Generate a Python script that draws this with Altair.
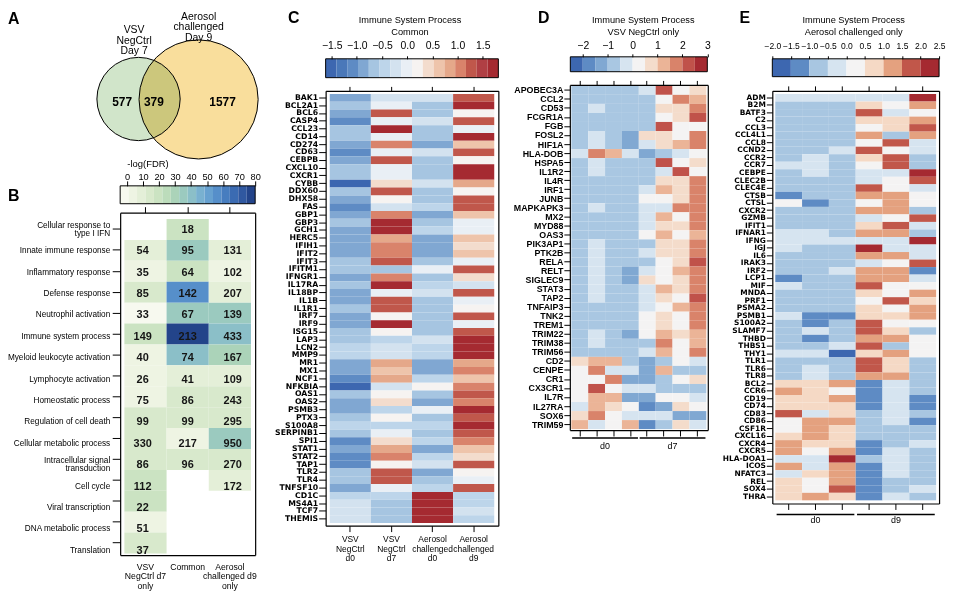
import numpy as np
import pandas as pd
import altair as alt

W, H = 948, 586
FONT = "Liberation Sans"
GENE_FONT = "DejaVu Sans"

# ---------------- data ----------------
VENN_NAMES = ["VSV\nNegCtrl\nDay 7", "Aerosol\nchallenged\nDay 9"]
VENN_ONLY = [577, 1577]
VENN_SHARED = 379

B_TERMS = ["Cellular response to|type I IFN", "Innate immune response", "Inflammatory response",
           "Defense response", "Neutrophil activation", "Immune system process",
           "Myeloid leukocyte activation", "Lymphocyte activation", "Homeostatic process",
           "Regulation of cell death", "Cellular metabolic process",
           "Intracellular signal|transduction", "Cell cycle", "Viral transcription",
           "DNA metabolic process", "Translation"]
B_GROUPS = ["VSV|NegCtrl d7|only", "Common", "Aerosol|challenged d9|only"]
B_GENES = [[None, 18, None], [54, 95, 131], [35, 64, 102], [85, 142, 207], [33, 67, 139],
           [149, 213, 433], [40, 74, 167], [26, 41, 109], [75, 86, 243], [99, 99, 295],
           [330, 217, 950], [86, 96, 270], [112, None, 172], [22, None, None],
           [51, None, None], [37, None, None]]
B_LOGFDR = [[None, 17, None], [8, 33, 7], [3, 18, 5], [12, 57, 8], [0.5, 35, 33],
            [18, 77, 40], [5, 38, 31], [1, 9, 8], [6, 15, 14], [13, 14, 14],
            [12, 1, 34], [12, 16, 12], [18, None, 8], [18, None, None],
            [4, None, None], [12, None, None]]

C_GENES = ["BAK1", "BCL2A1", "BCL6", "CASP4", "CCL23", "CD14", "CD274", "CD63", "CEBPB", "CXCL10",
           "CXCR1", "CYBB", "DDX60", "DHX58", "FAS", "GBP1", "GBP3", "GCH1", "HERC5", "IFIH1",
           "IFIT2", "IFIT3", "IFITM1", "IFNGR1", "IL17RA", "IL18BP", "IL1B", "IL1R1", "IRF7", "IRF9",
           "ISG15", "LAP3", "LCN2", "MMP9", "MR1", "MX1", "NCF1", "NFKBIA", "OAS1", "OAS2",
           "PSMB3", "PTX3", "S100A8", "SERPINB1", "SPI1", "STAT1", "STAT2", "TAP1", "TLR2", "TLR4",
           "TNFSF10", "CD1C", "MS4A1", "TCF7", "THEMIS"]
C_GROUPS = ["VSV|NegCtrl|d0", "VSV|NegCtrl|d7", "Aerosol|challenged|d0", "Aerosol|challenged|d9"]
C_Z = [[-0.9, -0.25, -0.25, 1.3], [-0.7, 0.0, -0.7, 1.7], [-0.9, 1.3, -0.7, 0.2],
       [-1.1, 0.0, -0.25, 1.3], [-0.7, 1.7, -0.7, 0.0], [-0.7, -0.1, -0.7, 1.7],
       [-0.9, 1.05, -0.9, 0.6], [-1.1, 0.0, -0.25, 1.3], [-0.9, 1.3, -0.7, 0.2],
       [-0.7, -0.1, -0.7, 1.7], [-0.7, 0.0, -0.7, 1.7], [-1.45, 0.4, -0.25, 0.85],
       [-0.7, 1.3, -0.7, 0.2], [-0.9, 0.3, -0.7, 1.3], [-1.1, -0.25, -0.45, 1.3],
       [-0.9, 1.05, -0.9, 0.6], [-0.7, 1.7, -0.7, -0.1], [-0.9, 1.7, -0.45, -0.1],
       [-0.9, 0.85, -0.9, 0.6], [-0.9, 1.05, -0.9, 0.4], [-0.9, 1.05, -0.9, 0.6],
       [-0.7, 1.3, -0.7, 0.0], [-0.7, -0.7, 0.0, 1.3], [-0.9, 1.05, -0.7, 0.4],
       [-0.7, 1.7, -0.45, -0.25], [-0.9, -0.1, -0.25, 1.3], [-0.9, 1.3, -0.7, 0.0],
       [-0.7, 1.3, -0.7, 0.2], [-0.9, 0.3, -0.7, 1.3], [-0.9, 1.7, -0.7, -0.1],
       [-0.7, 0.3, -0.7, 1.3], [-0.7, -0.45, -0.25, 1.7], [-0.45, -0.25, -0.45, 1.7],
       [-0.45, -0.25, -0.45, 1.7], [-0.9, 0.85, -0.9, 0.85], [-0.9, 0.6, -0.9, 1.05],
       [-1.1, 0.85, -0.45, 0.6], [-1.45, -0.25, 0.3, 1.05], [-0.7, 0.3, -0.7, 1.3],
       [-0.9, 0.4, -0.9, 1.05], [-0.9, -0.45, -0.1, 1.7], [-0.7, 0.3, -0.7, 1.3],
       [-0.45, -0.45, -0.45, 1.7], [-0.7, 0.0, -0.7, 1.3], [-1.1, 0.4, -0.45, 1.05],
       [-0.9, 0.85, -0.9, 0.6], [-1.1, 1.05, -0.45, 0.4], [-1.1, 0.3, -0.25, 1.3],
       [-0.7, 1.3, -0.9, 0.2], [-0.7, 1.3, -0.7, 0.0], [-0.9, 0.0, -0.45, 1.3],
       [-0.45, -0.45, 1.7, -0.45], [-0.25, -0.7, 1.7, -0.45], [-0.25, -0.7, 1.7, -0.25],
       [-0.25, -0.7, 1.7, -0.45]]

D_GENES = ["APOBEC3A", "CCL2", "CD53", "FCGR1A", "FGB", "FOSL2", "HIF1A", "HLA-DOB", "HSPA5",
           "IL1R2", "IL4R", "IRF1", "JUNB", "MAPKAPK3", "MX2", "MYD88", "OAS3", "PIK3AP1",
           "PTK2B", "RELA", "RELT", "SIGLEC9", "STAT3", "TAP2", "TNFAIP3", "TNK2", "TREM1",
           "TRIM22", "TRIM38", "TRIM56", "CD2", "CENPE", "CR1", "CX3CR1", "IL7R", "IL27RA",
           "SOX6", "TRIM59"]
D_SAMPLES = ["d0 1", "d0 2", "d0 3", "d0 4", "d7 1", "d7 2", "d7 3", "d7 4"]
D_DAYS = ["d0", "d7"]
D_Z = [[-0.75, -0.75, -0.75, -0.75, -0.25, 2.25, 0.25, 0.75],
       [-0.75, -0.75, -0.75, -0.75, -0.75, 0.25, 1.75, 1.25],
       [-0.75, -0.25, -0.75, -0.75, -0.75, 0.75, 0.75, 1.75],
       [-0.75, -0.75, -0.75, -0.75, -0.75, 0.25, 0.75, 2.25],
       [-0.75, -0.75, -0.75, -0.75, -0.75, 2.25, 0.25, 0.25],
       [-0.75, -0.25, -0.75, -1.25, 0.75, 0.75, 0.25, 1.75],
       [-0.75, -0.25, -0.75, -1.25, -0.25, 0.75, 1.25, 1.75],
       [-0.25, 1.75, 1.25, -0.25, -1.25, -0.75, -0.25, 0.25],
       [-0.75, -0.25, -0.75, -0.75, -0.75, 2.25, 0.25, 0.75],
       [-0.75, -0.25, -0.75, -0.75, -0.75, -0.25, 2.25, 0.25],
       [-0.75, -0.75, -0.75, -0.75, -0.75, 0.75, 0.75, 1.75],
       [-0.75, -0.75, -0.75, -0.75, -0.25, 1.25, 0.75, 1.75],
       [-0.75, -0.75, -0.75, -0.75, 0.25, 0.25, 0.75, 1.75],
       [-0.75, -0.25, -0.75, -0.75, -0.25, -0.25, 1.75, 1.75],
       [-0.75, -0.75, -0.75, -0.75, -0.25, 1.25, 0.25, 1.75],
       [-0.75, -0.75, -0.75, -0.75, -0.25, 0.75, 0.75, 1.75],
       [-0.75, -0.75, -0.75, -0.75, 0.25, 1.25, 0.25, 1.25],
       [-0.75, -0.25, -0.75, -0.75, -0.75, 0.75, 0.75, 1.75],
       [-0.75, -0.25, -0.75, -0.75, -0.25, 0.75, 0.75, 1.75],
       [-0.75, -0.25, -0.75, -0.75, -0.75, 0.25, 0.75, 2.25],
       [-0.75, -0.25, -0.75, -1.25, -0.25, 0.25, 1.25, 1.75],
       [-0.75, -0.25, -0.75, -1.25, 0.75, 0.25, 0.75, 1.75],
       [-0.75, -0.25, -0.75, -0.75, -0.25, 1.25, 0.75, 1.75],
       [-0.75, -0.25, -0.75, -0.75, -0.25, 0.75, 0.25, 2.25],
       [-0.75, -0.75, -0.75, -0.75, -0.25, 0.25, 1.25, 1.75],
       [-0.75, -0.75, -0.75, -0.75, 0.25, 0.75, 0.25, 1.75],
       [-0.75, -0.75, -0.75, -0.75, 0.25, 0.75, 0.25, 1.75],
       [-0.75, -0.25, -0.75, -1.25, 0.25, 1.25, 0.75, 1.25],
       [-0.75, -0.25, -0.75, -0.75, -0.75, 1.75, 0.25, 1.25],
       [-0.75, -0.75, -0.75, -0.75, -0.25, 1.25, 0.25, 1.75],
       [0.75, 1.25, 1.25, -0.75, -1.25, -0.75, 0.25, -0.25],
       [0.25, 1.75, -0.25, -0.25, -1.25, 1.25, -0.75, -0.75],
       [0.25, 0.25, 1.75, -1.25, -1.25, -0.75, 0.25, 0.75],
       [0.25, 2.25, 0.25, -0.25, -0.25, -0.75, -0.75, -0.75],
       [0.25, 1.25, 1.25, -1.25, -1.25, 0.25, 0.25, -0.25],
       [-0.25, 1.25, 0.75, 0.25, -1.75, -1.25, 0.75, 0.25],
       [0.75, 1.75, 0.25, -0.25, -0.25, -0.25, -1.25, -1.25],
       [1.25, -0.25, 0.25, 1.25, -1.75, -0.75, 0.75, -0.25]]

E_GENES = ["ADM", "B2M", "BATF3", "C2", "CCL3", "CCL4L1", "CCL8", "CCND2", "CCR2", "CCR7",
           "CEBPE", "CLEC2B", "CLEC4E", "CTSB", "CTSL", "CXCR2", "GZMB", "IFIT1", "IFNAR1",
           "IFNG", "IGJ", "IL6", "IRAK3", "IRF2", "LCP1", "MIF", "MNDA", "PRF1", "PSMA2",
           "PSMB1", "S100A2", "SLAMF7", "THBD", "THBS1", "THY1", "TLR1", "TLR6", "TLR8",
           "BCL2", "CCR6", "CD19", "CD74", "CD83", "CD86", "CSF1R", "CXCL16", "CXCR4",
           "CXCR5", "HLA-DOA1", "ICOS", "NFATC3", "REL", "SOX4", "THRA"]
E_SAMPLES = ["d0 1", "d0 2", "d0 3", "d9 1", "d9 2", "d9 3"]
E_DAYS = ["d0", "d9"]
E_Z = [[-0.25, -0.25, -0.25, -0.25, -0.25, 2.25], [-0.75, -0.75, -0.75, 0.75, 0.25, 1.25],
       [-0.75, -0.75, -0.75, 1.75, -0.25, 0.25], [-0.75, -0.75, -0.75, 0.75, 0.75, 1.25],
       [-0.75, -0.75, -0.75, 0.25, 0.75, 1.75], [-0.75, -0.75, -0.75, 1.25, -0.75, 1.25],
       [-0.75, -0.75, -0.75, 0.25, 1.75, -0.25], [-0.75, -0.75, -0.25, 1.75, 0.25, -0.25],
       [-0.75, -0.25, -0.75, 0.75, 1.75, -0.75], [-0.25, -0.25, -0.75, 0.25, 1.75, -0.75],
       [-0.75, -0.25, -0.75, -0.25, -0.25, 2.25], [-0.75, -0.75, -0.75, -0.25, 0.25, 1.75],
       [-0.75, -0.75, -0.75, 1.75, 0.25, -0.25], [-1.25, -0.75, -0.75, 1.25, 1.25, 0.25],
       [0.25, -1.25, -0.75, 0.25, 1.25, 0.25], [-0.75, -0.75, -0.75, 1.25, 1.25, -0.75],
       [-0.75, -0.75, -0.75, -0.25, 0.25, 1.75], [-0.75, -0.75, -0.75, 0.75, 1.75, -0.25],
       [-0.25, -0.25, -0.75, 1.25, 1.25, -0.75], [-0.25, -0.25, -0.25, -0.25, -0.25, 2.25],
       [-0.25, -0.75, -0.75, 2.25, -0.25, -0.25], [-0.75, -0.75, -0.75, 1.25, 1.25, -0.25],
       [-0.75, -0.75, -0.75, -0.25, 0.25, 1.75], [-0.75, -0.75, -0.25, 1.25, 1.25, -1.25],
       [-1.25, -0.75, -0.75, 1.25, 1.25, -0.25], [-0.25, -0.75, -0.75, 1.75, 0.25, 0.25],
       [-0.75, -0.75, -0.75, 0.75, 0.25, 1.25], [-0.75, -0.75, -0.75, 0.25, 1.75, 0.75],
       [-0.75, -0.75, -0.75, 0.75, 0.25, 1.25], [-0.25, -1.25, -1.25, 0.75, 0.75, 1.25],
       [-0.75, -1.25, -0.75, 1.75, 0.25, 0.25], [-0.75, -0.25, -0.75, 1.75, 0.75, -0.75],
       [-0.75, -1.25, -0.75, 1.25, 1.25, 0.25], [-0.75, -0.75, -0.25, 1.75, -0.75, 0.25],
       [-0.25, -0.25, -1.75, 0.75, 1.25, 0.25], [-0.75, -0.75, -0.75, 1.75, 0.75, -0.75],
       [-0.75, -0.25, -0.75, 1.75, 0.75, -0.75], [-0.75, -0.25, -0.75, 1.25, 1.25, -0.75],
       [0.75, 0.75, 1.25, -1.25, -0.25, -0.75], [1.25, 0.75, 0.25, -1.25, -0.25, -0.75],
       [0.75, 0.75, 1.25, -1.25, -0.25, -1.25], [0.75, 0.75, 0.75, -1.25, -0.25, -1.25],
       [1.75, -0.25, 0.75, -0.75, -0.25, -0.75], [0.25, 1.25, 1.25, -0.75, -0.25, -1.25],
       [0.25, 1.25, 0.75, -0.75, -0.75, -0.75], [0.75, 1.25, 0.75, -0.75, -0.75, -0.75],
       [1.25, 0.75, 0.75, -1.25, -0.75, -0.25], [1.25, 0.25, 1.25, -1.25, -0.25, -0.75],
       [-0.25, -0.25, 2.25, -0.75, -0.25, -0.75], [1.25, -0.25, 1.25, -1.25, -0.25, -0.75],
       [-0.25, 0.75, 1.25, -1.25, -0.25, -0.75], [0.75, 0.25, 1.25, -1.25, -0.75, -0.75],
       [0.75, 0.25, 1.75, -1.25, -0.75, -0.25], [0.75, 1.25, 0.75, -1.25, -0.25, -0.75]]

# ---------------- palettes ----------------
PAL_B = ["#f7f9ef", "#eef4e3", "#e4efd8", "#d8e9cc", "#cbe3c2", "#bcdcbb", "#abd3b9", "#9bcabf",
         "#8bbfc8", "#79b1d0", "#67a1d0", "#568fca", "#477dbf", "#3b6bb2", "#3058a0", "#23448a"]
PAL_C = ["#3d67b0", "#4a78b9", "#5e8bc4", "#80a7d2", "#a6c5e1", "#bdd5ea", "#d3e2ef", "#e9eff5",
         "#f6f3f1", "#f3dccd", "#eec4ab", "#e5a88a", "#d9836b", "#c0574b", "#b03f44", "#a52a31"]
PAL_D = ["#3d67b0", "#5e8bc4", "#80a8d2", "#a9c7e2", "#d6e4f0", "#f4f3f3", "#f4dccb", "#ebb497",
         "#d9836a", "#c0524a", "#a52a31"]
PAL_E = ["#3d67b0", "#5e8bc4", "#a8c6e1", "#d6e4f0", "#f4f3f3", "#f5d9c5", "#e4a17f", "#c1574a",
         "#a52a31"]


def edges(lo, hi, n):
    return [float(v) for v in np.linspace(lo, hi, n + 1)]


EDGE_B = edges(-4.3, 80, 16)
EDGE_C = edges(-1.62, 1.81, 16)
EDGE_D = edges(-2.5, 3.0, 11)
EDGE_E = edges(-2.0, 2.5, 9)


def cscale(ed, pal):
    return alt.Scale(type="threshold", domain=ed[1:-1], range=pal)


def ax(orient, offset, **kw):
    opts = dict(orient=orient, offset=offset, title=None, grid=False,
                domainColor="black", domainWidth=1.2, tickColor="black", tickWidth=1,
                labelColor="black", labelFont=FONT, zindex=3)
    opts.update(kw)
    return alt.Axis(**opts)


def band(dom, rng, po, align=0.5):
    return alt.Scale(domain=dom, range=rng, paddingInner=0, paddingOuter=po, align=align)


def long_df(genes, samples, z):
    return pd.DataFrame([{"row": g, "col": s, "v": z[i][j]}
                         for i, g in enumerate(genes) for j, s in enumerate(samples)])


def heatmap(df, xdom, ydom, xr, yr, xpo, ypo, yal, cs, left_kw, top_kw, bottom_kw):
    xs = band(xdom, xr, xpo)
    ys = band(ydom, yr, ypo, yal)
    cells = alt.Chart(df).mark_rect().encode(
        x=alt.X("col:N", scale=xs, axis=ax("bottom", yr[1] - H, labelAngle=0, **bottom_kw)),
        y=alt.Y("row:N", scale=ys, axis=ax("left", -xr[0], **left_kw)),
        color=alt.Color("v:Q", scale=cs, legend=None))
    frame = alt.Chart(df).mark_rect(opacity=0).encode(
        x=alt.X("col:N", scale=xs, axis=ax("top", -yr[0], labels=False, **top_kw)),
        y=alt.Y("row:N", scale=ys, axis=ax("right", xr[1] - W, labels=False, ticks=False)))
    return [cells, frame], xs, ys


def colorbar(ed, pal, xr, yr, ticks, fmt, fs, ts, lp):
    df = pd.DataFrame({"lo": ed[:-1], "hi": ed[1:],
                       "mid": [(a + b) / 2 for a, b in zip(ed[:-1], ed[1:])], "bar": "bar"})
    xs = alt.Scale(domain=[ed[0], ed[-1]], range=xr, zero=False, nice=False)
    ys = alt.Scale(domain=["bar"], range=yr, paddingInner=0, paddingOuter=0)
    bins = alt.Chart(df).mark_rect().encode(
        x=alt.X("lo:Q", scale=xs, axis=ax("top", -yr[0], values=ticks, format=fmt,
                                           labelFontSize=fs, tickSize=ts, labelPadding=lp,
                                           labelFlush=False, labelOverlap=False,
                                           labelBound=False, domain=False)),
        x2="hi:Q",
        y=alt.Y("bar:N", scale=ys, axis=None),
        color=alt.Color("mid:Q", scale=cscale(ed, pal), legend=None))
    bdf = pd.DataFrame({"lo": [ed[0]], "hi": [ed[-1]], "bar": ["bar"]})
    border = alt.Chart(bdf).mark_rect(fillOpacity=0, stroke="black", strokeWidth=1).encode(
        x=alt.X("lo:Q", scale=xs, axis=None), x2="hi:Q",
        y=alt.Y("bar:N", scale=ys, axis=None))
    return [bins, border]


def note(txt, x, y, size, bold=False, align="center", baseline="middle", lh=None):
    props = dict(font=FONT, fontSize=size, align=align, baseline=baseline, color="black",
                 lineBreak="\n")
    if bold:
        props["fontWeight"] = "bold"
    if lh:
        props["lineHeight"] = lh
    return alt.Chart(pd.DataFrame({"t": [txt]})).mark_text(**props).encode(
        text="t:N", x=alt.value(x), y=alt.value(y))


def day_groups(samples, days, xr_cells, y_rule, y_lab):
    rows = []
    for d in days:
        idx = [i + 1 for i, s in enumerate(samples) if s.startswith(d)]
        s0, s1 = idx[0] - 0.45, idx[-1] + 0.45
        rows.append({"g": d, "s": s0, "e": s1, "m": (s0 + s1) / 2})
    df = pd.DataFrame(rows)
    xs = alt.Scale(domain=[0.5, len(samples) + 0.5], range=xr_cells, zero=False, nice=False)
    rule = alt.Chart(df).mark_rule(color="black", strokeWidth=1.5).encode(
        x=alt.X("s:Q", scale=xs, axis=None), x2="e:Q", y=alt.value(y_rule))
    lab = alt.Chart(df).mark_text(font=FONT, fontSize=9, color="black", baseline="middle").encode(
        x=alt.X("m:Q", scale=xs, axis=None), y=alt.value(y_lab), text="g:N")
    return [rule, lab]


layers = []

# ---------------- Panel A : Venn ----------------
totals = [VENN_ONLY[0] + VENN_SHARED, VENN_ONLY[1] + VENN_SHARED]
venn_df = pd.DataFrame({"set": ["VSV", "Aerosol"], "total": totals,
                        "cx": [0.0, 1.444], "cy": [0.0, -0.01]})
VX = alt.Scale(domain=[-3, 3], range=[5.8, 257.2], zero=False, nice=False)
VY = alt.Scale(domain=[-3, 3], range=[215.2, -36.2], zero=False, nice=False)
layers.append(alt.Chart(venn_df).mark_circle(opacity=1, stroke="black", strokeWidth=1,
                                             blend="multiply").encode(
    x=alt.X("cx:Q", scale=VX, axis=None), y=alt.Y("cy:Q", scale=VY, axis=None),
    size=alt.Size("total:Q", scale=alt.Scale(domain=[0, max(totals)], range=[0, 14400]),
                  legend=None),
    color=alt.Color("set:N", scale=alt.Scale(domain=["VSV", "Aerosol"],
                                             range=["#d1e5ca", "#f9de9c"]), legend=None)))
vnum = pd.DataFrame({"t": [str(VENN_ONLY[0]), str(VENN_SHARED), str(VENN_ONLY[1])],
                     "tx": [-0.394, 0.37, 2.02], "ty": [-0.084, -0.084, -0.084]})
layers.append(alt.Chart(vnum).mark_text(font=FONT, fontSize=12, fontWeight="bold",
                                        color="black", baseline="middle").encode(
    x=alt.X("tx:Q", scale=VX, axis=None), y=alt.Y("ty:Q", scale=VY, axis=None), text="t:N"))
vlab = pd.DataFrame({"t": VENN_NAMES, "tx": [-0.107, 1.444], "ty": [1.778, 2.10]})
layers.append(alt.Chart(vlab).mark_text(font=FONT, fontSize=10.5, color="black", baseline="top",
                                        lineBreak="\n", lineHeight=10.8).encode(
    x=alt.X("tx:Q", scale=VX, axis=None), y=alt.Y("ty:Q", scale=VY, axis=None), text="t:N"))

# ---------------- Panel B ----------------
layers += colorbar(EDGE_B, PAL_B, [113, 249], [177, 195], list(range(0, 81, 10)), "d",
                   9.3, 5, -1)
b_rows = []
for i, t in enumerate(B_TERMS):
    for j, g in enumerate(B_GROUPS):
        if B_GENES[i][j] is not None:
            b_rows.append({"row": t, "col": g, "n": B_GENES[i][j], "v": B_LOGFDR[i][j]})
b_df = pd.DataFrame(b_rows)
bl, bxs, bys = heatmap(
    b_df, B_GROUPS, B_TERMS, [113, 249], [204, 549], 0.1, 0.19, 0.8, cscale(EDGE_B, PAL_B),
    dict(tickSize=8, labels=False),
    dict(tickSize=6),
    dict(ticks=False, tickSize=0, labelPadding=7.6, labelFontSize=8.7,
         labelExpr="split(datum.label, '|')", labelLineHeight=9.3, labelBaseline="top"))
layers += bl
layers.append(alt.Chart(b_df).mark_text(font=FONT, fontSize=11, fontWeight="bold",
                                        color="#151515", baseline="middle").encode(
    x=alt.X("col:N", scale=bxs, axis=None), y=alt.Y("row:N", scale=bys, axis=None),
    text="n:Q"))
# row labels of B (two-line terms are split into two centred lines)
term_df = pd.DataFrame({"row": B_TERMS,
                        "one": [t if "|" not in t else "" for t in B_TERMS],
                        "l1": [t.split("|")[0] if "|" in t else "" for t in B_TERMS],
                        "l2": [t.split("|")[1] if "|" in t else "" for t in B_TERMS]})
for field, dy in (("one", 0), ("l1", -4.2), ("l2", 4.2)):
    layers.append(alt.Chart(term_df).mark_text(font=FONT, fontSize=8.3, color="black",
                                               align="right", baseline="middle", dy=dy).encode(
        x=alt.value(103), y=alt.Y("row:N", scale=bys, axis=None), text=f"{field}:N"))

# ---------------- Panel C ----------------
layers += colorbar(EDGE_C, PAL_C, [320, 494], [49, 68], [-1.5, -1, -0.5, 0, 0.5, 1, 1.5],
                   ".1f", 10.5, 3, 5)
cl, _, _ = heatmap(
    long_df(C_GENES, C_GROUPS, C_Z), C_GROUPS, C_GENES, [320, 494], [81.3, 519.3], 0.1, 0.36,
    0.55, cscale(EDGE_C, PAL_C),
    dict(tickSize=7, labelPadding=1, labelFontSize=7.8, labelFontWeight="bold",
         labelFont=GENE_FONT),
    dict(tickSize=4.5),
    dict(tickSize=6, labelPadding=3, labelFontSize=8.5, labelExpr="split(datum.label, '|')",
         labelLineHeight=9.6, labelBaseline="top"))
layers += cl

# ---------------- Panel D ----------------
layers += colorbar(EDGE_D, PAL_D, [566.5, 704.5], [47, 62], [-2, -1, 0, 1, 2, 3], "d",
                   10.5, 3, 3)
dl, _, _ = heatmap(
    long_df(D_GENES, D_SAMPLES, D_Z), D_SAMPLES, D_GENES, [566, 705], [75.3, 423], 0.09, 0.1,
    0.5, cscale(EDGE_D, PAL_D),
    dict(tickSize=6, labelPadding=1, labelFontSize=8.9, labelFontWeight="bold"),
    dict(tickSize=4.5),
    dict(tickSize=6, labels=False))
layers += dl
layers += day_groups(D_SAMPLES, D_DAYS, [567.5, 703.5], 431, 439)

# ---------------- Panel E ----------------
layers += colorbar(EDGE_E, PAL_E, [770, 938], [49, 67],
                   [-2, -1.5, -1, -0.5, 0, 0.5, 1, 1.5, 2, 2.5], ".1f", 8.6, 3, 5.5)
el, _, _ = heatmap(
    long_df(E_GENES, E_SAMPLES, E_Z), E_SAMPLES, E_GENES, [770, 938], [81.3, 497], 0.11, 0.42,
    0.5, cscale(EDGE_E, PAL_E),
    dict(tickSize=6, labelPadding=1, labelFontSize=7.5, labelFontWeight="bold",
         labelFont=GENE_FONT),
    dict(tickSize=5),
    dict(tickSize=6, labels=False))
layers += el
layers += day_groups(E_SAMPLES, E_DAYS, [773, 935], 508, 514)

# ---------------- titles / letters ----------------
layers += [
    note("A", 0, 14, 16, bold=True, align="left", baseline="alphabetic"),
    note("B", 0, 192, 16, bold=True, align="left", baseline="alphabetic"),
    note("C", 282, 13, 16, bold=True, align="left", baseline="alphabetic"),
    note("D", 534, 13, 16, bold=True, align="left", baseline="alphabetic"),
    note("E", 737, 13, 16, bold=True, align="left", baseline="alphabetic"),
    note("-log(FDR)", 141, 155, 9.5),
    note("Immune System Process\nCommon", 405, 6.2, 9.3, baseline="top", lh=12.2),
    note("Immune System Process\nVSV NegCtrl only", 640, 6.2, 9.3, baseline="top", lh=12.2),
    note("Immune System Process\nAerosol challenged only", 852, 6.2, 9.3, baseline="top",
         lh=12.2),
]

chart = alt.layer(*layers).resolve_scale(
    x="independent", y="independent", color="independent", size="independent"
).resolve_axis(x="independent", y="independent").properties(
    width=W, height=H, padding=0, autosize=alt.AutoSizeParams(type="none")
).configure_view(stroke="transparent")

chart.save("out.html", embed_options={"renderer": "svg", "actions": False})
